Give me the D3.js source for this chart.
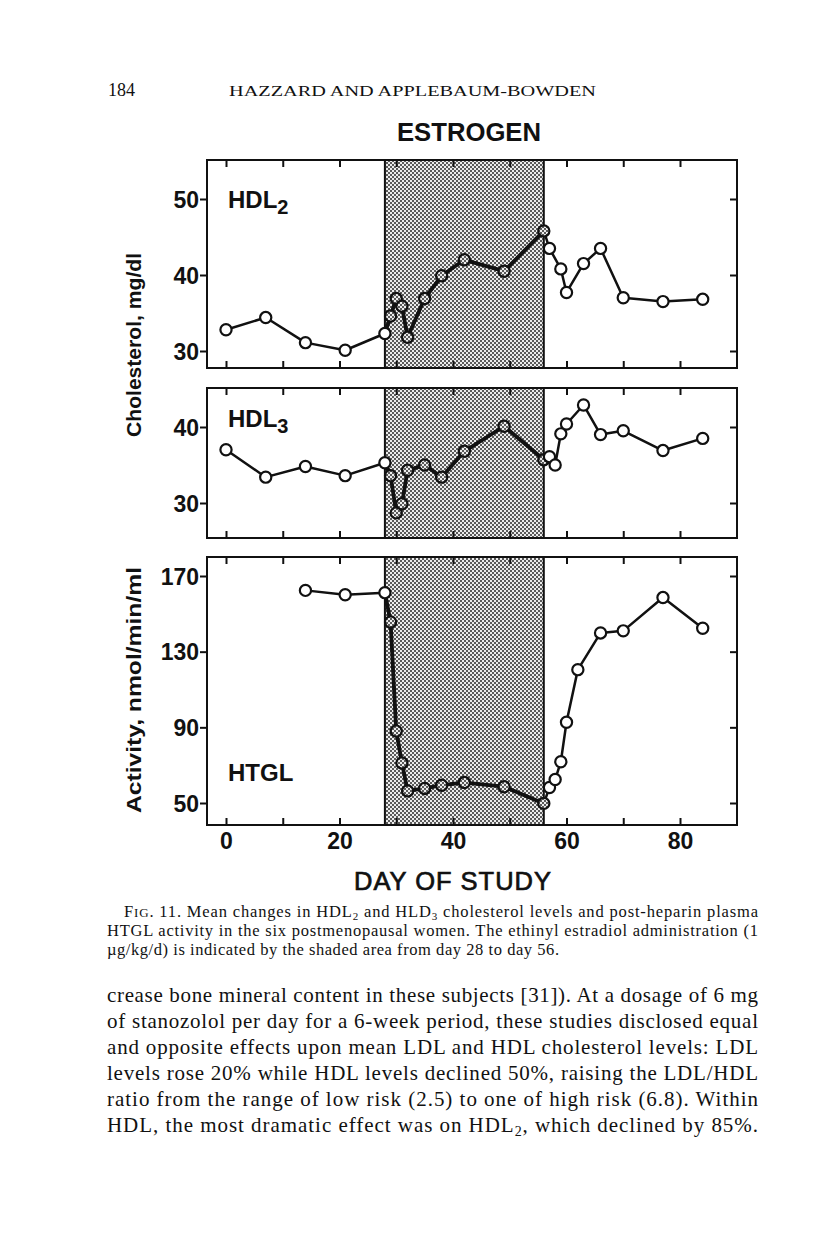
<!DOCTYPE html>
<html>
<head>
<meta charset="utf-8">
<script src="https://cdn.jsdelivr.net/npm/d3@7"></script>
<style>
  html, body { margin: 0; padding: 0; background: #fff; }
  svg { display: block; }
</style>
</head>
<body>
<script>
// ---------- DATA ----------
const hdl2Days = [0, 7, 14, 21, 28, 29, 30, 31, 32, 35, 38, 42, 49, 56, 57, 59, 60, 63, 66, 70, 77, 84];
const hdl2Vals = [32.8, 34.4, 31.1, 30.1, 32.3, 34.6, 36.9, 35.9, 31.8, 36.9, 39.9, 42.0, 40.5, 45.8, 43.5, 40.8, 37.7, 41.5, 43.5, 37.0, 36.5, 36.8];

const hdl3Days = [0, 7, 14, 21, 28, 29, 30, 31, 32, 35, 38, 42, 49, 56, 57, 58, 59, 60, 63, 66, 70, 77, 84];
const hdl3Vals = [37.0, 33.4, 34.8, 33.6, 35.3, 33.6, 28.7, 29.9, 34.3, 35.0, 33.4, 36.8, 40.1, 35.7, 36.1, 35.0, 39.1, 40.4, 42.9, 39.0, 39.5, 36.9, 38.5];

const htglDays = [14, 21, 28, 29, 30, 31, 32, 35, 38, 42, 49, 56, 57, 58, 59, 60, 62, 66, 70, 77, 84];
const htglVals = [162.4, 160.1, 161.2, 145.7, 88.0, 71.2, 56.4, 57.7, 59.4, 60.8, 58.6, 49.8, 58.2, 62.4, 71.8, 92.7, 120.5, 139.9, 141.0, 158.6, 142.4];

const hdl2Ticks = [30, 40, 50];
const hdl3Ticks = [30, 40];
const htglTicks = [50, 90, 130, 170];
const dayTicks = [0, 10, 20, 30, 40, 50, 60, 70, 80];
const dayLabels = [0, 20, 40, 60, 80];
const shadeDays = [28, 56];

const headerPage = "184";
const headerAuthors = "HAZZARD AND APPLEBAUM-BOWDEN";
const chartTitle = "ESTROGEN";
const xTitle = "DAY OF STUDY";
const yTitleTop = "Cholesterol, mg/dl";
const yTitleBottom = "Activity, nmol/min/ml";

const bodyLines = [
  "crease bone mineral content in these subjects [31]). At a dosage of 6 mg",
  "of stanozolol per day for a 6-week period, these studies disclosed equal",
  "and opposite effects upon mean LDL and HDL cholesterol levels: LDL",
  "levels rose 20% while HDL levels declined 50%, raising the LDL/HDL",
  "ratio from the range of low risk (2.5) to one of high risk (6.8). Within"
];

// ---------- LAYOUT ----------
const W = 816, H = 1255;
const svg = d3.select("body").append("svg").attr("width", W).attr("height", H);
const defs = svg.append("defs");
const pat = defs.append("pattern").attr("id", "dots").attr("patternUnits", "userSpaceOnUse")
  .attr("width", 4).attr("height", 4);
pat.append("rect").attr("width", 4).attr("height", 4).attr("fill", "#ececec");
pat.append("rect").attr("x", 0).attr("y", 0).attr("width", 2).attr("height", 2).attr("fill", "#5a5a5a");
pat.append("rect").attr("x", 2).attr("y", 2).attr("width", 2).attr("height", 2).attr("fill", "#5a5a5a");

const x = d3.scaleLinear().domain([0, 80]).range([226, 680]);
const frameL = 207, frameR = 737;

const SANS = "'Liberation Sans', Arial, Helvetica, sans-serif";
const SERIF = "'Liberation Serif', 'Times New Roman', serif";

const panels = [
  { id: "p1", days: hdl2Days, vals: hdl2Vals, dom: [30, 50], rng: [351, 199], top: 160, bottom: 368, ticks: hdl2Ticks, label: "HDL", sub: "2", lx: 228, ly: 208 },
  { id: "p2", days: hdl3Days, vals: hdl3Vals, dom: [30, 40], rng: [503, 427], top: 388, bottom: 538, ticks: hdl3Ticks, label: "HDL", sub: "3", lx: 228, ly: 427 },
  { id: "p3", days: htglDays, vals: htglVals, dom: [50, 170], rng: [803, 576], top: 557, bottom: 825, ticks: htglTicks, label: "HTGL", sub: "", lx: 228, ly: 781 }
];

panels.forEach((p, i) => {
  const y = d3.scaleLinear().domain(p.dom).range(p.rng);
  const g = svg.append("g");
  const sx0 = x(shadeDays[0]), sx1 = x(shadeDays[1]);

  // shaded estrogen period
  g.append("rect").attr("x", sx0).attr("y", p.top).attr("width", sx1 - sx0).attr("height", p.bottom - p.top)
    .attr("fill", "url(#dots)").attr("stroke", "#111").attr("stroke-width", 2);

  defs.append("clipPath").attr("id", "clip" + p.id)
    .append("rect").attr("x", sx0).attr("y", p.top).attr("width", sx1 - sx0).attr("height", p.bottom - p.top);

  // ticks: left (outside, labelled), right (inside), top (inside), bottom (inside)
  const left = g.append("g").attr("transform", `translate(${frameL},0)`)
    .call(d3.axisLeft(y).tickValues(p.ticks).tickSize(7).tickPadding(1).tickFormat(d3.format("d")));
  left.select(".domain").remove();
  left.selectAll("line").attr("stroke", "#111").attr("stroke-width", 2);
  left.selectAll("text").attr("font-family", SANS).attr("font-weight", "bold").attr("font-size", 23).attr("fill", "#111")
    .attr("dy", "0.36em");

  const right = g.append("g").attr("transform", `translate(${frameR},0)`)
    .call(d3.axisLeft(y).tickValues(p.ticks).tickSize(7).tickFormat(""));
  right.select(".domain").remove();
  right.selectAll("line").attr("stroke", "#111").attr("stroke-width", 2);

  const topAx = g.append("g").attr("transform", `translate(0,${p.top})`)
    .call(d3.axisBottom(x).tickValues(dayTicks).tickSize(7).tickFormat(""));
  topAx.select(".domain").remove();
  topAx.selectAll("line").attr("stroke", "#111").attr("stroke-width", 2);

  const botAx = g.append("g").attr("transform", `translate(0,${p.bottom})`)
    .call(d3.axisTop(x).tickValues(dayTicks).tickSize(7).tickFormat(""));
  botAx.select(".domain").remove();
  botAx.selectAll("line").attr("stroke", "#111").attr("stroke-width", 2);

  // frame
  g.append("rect").attr("x", frameL).attr("y", p.top).attr("width", frameR - frameL).attr("height", p.bottom - p.top)
    .attr("fill", "none").attr("stroke", "#111").attr("stroke-width", 2);

  // series line
  const pts = p.days.map((d, k) => [d, p.vals[k]]);
  const line = d3.line().x(d => x(d[0])).y(d => y(d[1]));
  g.append("path").attr("d", line(pts)).attr("fill", "none").attr("stroke", "#111")
    .attr("stroke-width", 2.5).attr("stroke-linejoin", "round");
  g.append("path").attr("d", line(pts)).attr("fill", "none").attr("stroke", "#111")
    .attr("stroke-width", 3.8).attr("stroke-linejoin", "round").attr("clip-path", `url(#clip${p.id})`);

  // open circles
  g.selectAll("circle.pt").data(pts).join("circle").attr("class", "pt")
    .attr("cx", d => x(d[0])).attr("cy", d => y(d[1])).attr("r", 5.6)
    .attr("fill", d => (d[0] > shadeDays[0] && d[0] <= shadeDays[1]) ? "url(#dots)" : "#fff")
    .attr("stroke", "#111").attr("stroke-width", 2.2);

  // panel label
  const t = g.append("text").attr("x", p.lx).attr("y", p.ly)
    .attr("font-family", SANS).attr("font-weight", "bold").attr("font-size", 24).attr("fill", "#111");
  t.append("tspan").text(p.label);
  if (p.sub) t.append("tspan").attr("font-size", 20).attr("dy", 6).text(p.sub);

  // x labels on bottom panel
  if (i === panels.length - 1) {
    const xl = g.append("g").attr("transform", `translate(0,${p.bottom})`)
      .call(d3.axisBottom(x).tickValues(dayLabels).tickSize(0).tickPadding(8).tickFormat(d3.format("d")));
    xl.select(".domain").remove();
    xl.selectAll("text").attr("font-family", SANS).attr("font-weight", "bold").attr("font-size", 23).attr("fill", "#111");
  }
});

// ---------- TEXTS ----------
svg.append("text").attr("x", 108).attr("y", 96).attr("font-family", SERIF).attr("font-size", 18).attr("fill", "#111")
  .text(headerPage);
svg.append("text").attr("x", 229).attr("y", 96).attr("font-family", SERIF).attr("font-size", 15).attr("fill", "#111")
  .attr("textLength", 367).attr("lengthAdjust", "spacingAndGlyphs").text(headerAuthors);

svg.append("text").attr("x", 469).attr("y", 141).attr("text-anchor", "middle").attr("font-family", SANS)
  .attr("font-weight", "bold").attr("font-size", 26).attr("fill", "#111")
  .attr("textLength", 144).attr("lengthAdjust", "spacingAndGlyphs").text(chartTitle);

svg.append("text").attr("x", 453).attr("y", 890).attr("text-anchor", "middle").attr("font-family", SANS)
  .attr("font-size", 25).attr("fill", "#111").attr("stroke", "#111").attr("stroke-width", 0.7)
  .attr("textLength", 198).attr("lengthAdjust", "spacingAndGlyphs").attr("letter-spacing", 1).text(xTitle);

svg.append("text").attr("transform", "translate(141,345) rotate(-90)").attr("text-anchor", "middle")
  .attr("font-family", SANS).attr("font-weight", "bold").attr("font-size", 21).attr("fill", "#111")
  .attr("textLength", 184).attr("lengthAdjust", "spacingAndGlyphs").text(yTitleTop);
svg.append("text").attr("transform", "translate(141,690) rotate(-90)").attr("text-anchor", "middle")
  .attr("font-family", SANS).attr("font-weight", "bold").attr("font-size", 21).attr("fill", "#111")
  .attr("textLength", 246).attr("lengthAdjust", "spacingAndGlyphs").text(yTitleBottom);

// caption
const capL = 107, capR = 758;
const CAPF = 16.5;
const c1 = svg.append("text").attr("x", 124).attr("y", 917).attr("font-family", SERIF).attr("font-size", CAPF)
  .attr("fill", "#111").attr("textLength", capR - 124).attr("lengthAdjust", "spacing");
c1.append("tspan").text("F");
c1.append("tspan").attr("font-size", 13).text("IG");
c1.append("tspan").text(". 11. Mean changes in HDL");
c1.append("tspan").attr("font-size", 11).attr("dy", 3).text("2");
c1.append("tspan").attr("dy", -3).text(" and HLD");
c1.append("tspan").attr("font-size", 11).attr("dy", 3).text("3");
c1.append("tspan").attr("dy", -3).text(" cholesterol levels and post-heparin plasma");
svg.append("text").attr("x", capL).attr("y", 936).attr("font-family", SERIF).attr("font-size", CAPF).attr("fill", "#111")
  .attr("textLength", capR - capL).attr("lengthAdjust", "spacing")
  .text("HTGL activity in the six postmenopausal women. The ethinyl estradiol administration (1");
svg.append("text").attr("x", capL).attr("y", 955).attr("font-family", SERIF).attr("font-size", CAPF).attr("fill", "#111")
  .attr("textLength", 452).attr("lengthAdjust", "spacing")
  .text("\u00b5g/kg/d) is indicated by the shaded area from day 28 to day 56.");

// body text
const BODYF = 21;
bodyLines.forEach((s, k) => {
  svg.append("text").attr("x", capL).attr("y", 1002 + k * 26).attr("font-family", SERIF).attr("font-size", BODYF)
    .attr("fill", "#111").attr("textLength", capR - capL).attr("lengthAdjust", "spacing").text(s);
});
const last = svg.append("text").attr("x", capL).attr("y", 1002 + 5 * 26).attr("font-family", SERIF).attr("font-size", BODYF)
  .attr("fill", "#111").attr("textLength", capR - capL).attr("lengthAdjust", "spacing");
last.append("tspan").text("HDL, the most dramatic effect was on HDL");
last.append("tspan").attr("font-size", 14).attr("dy", 4).text("2");
last.append("tspan").attr("dy", -4).text(", which declined by 85%.");
</script>
</body>
</html>
